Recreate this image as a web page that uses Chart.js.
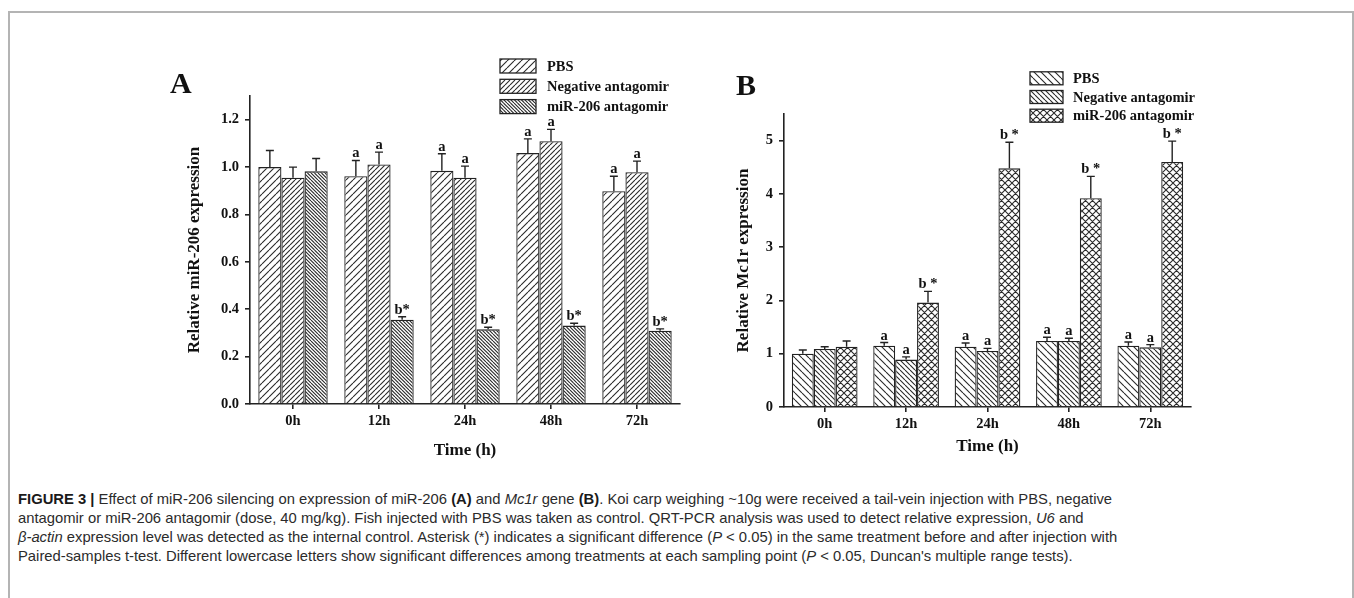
<!DOCTYPE html>
<html>
<head>
<meta charset="utf-8">
<script src="https://cdn.jsdelivr.net/npm/chart.js@4.4.1/dist/chart.umd.min.js"></script>
<style>
  body { margin: 0; background: #fff; width: 1354px; height: 598px; overflow: hidden; position: relative; }
  #frame { position: absolute; left: 8px; top: 11px; width: 1346px; height: 620px; border: 2px solid #b4b4b4; box-sizing: border-box; }
  .holder { position: absolute; }
  .tag { position: absolute; font: bold 30px "Liberation Serif", serif; color: #111; line-height: 1; }
  #caption { position: absolute; left: 18px; top: 490px; width: 1320px; font: 14.8px "Liberation Sans", Arial, sans-serif; line-height: 19px; color: #2b2b2b; white-space: nowrap; }
  #caption b { color: #1a1a1a; }
</style>
</head>
<body>
<div id="frame"></div>
<div class="holder" style="left:150px; top:40px;"><canvas id="chartA" width="560" height="440"></canvas></div>
<div class="holder" style="left:690px; top:50px;"><canvas id="chartB" width="520" height="430"></canvas></div>
<div class="tag" style="left:170px; top:68px;">A</div>
<div class="tag" style="left:736px; top:70px;">B</div>
<div id="caption">
<b>FIGURE 3 |</b> Effect of miR-206 silencing on expression of miR-206 <b>(A)</b> and <i>Mc1r</i> gene <b>(B)</b>. Koi carp weighing ~10g were received a tail-vein injection with PBS, negative<br>
antagomir or miR-206 antagomir (dose, 40 mg/kg). Fish injected with PBS was taken as control. QRT-PCR analysis was used to detect relative expression, <i>U6</i> and<br>
<i>β-actin</i> expression level was detected as the internal control. Asterisk (*) indicates a significant difference (<i>P</i> &lt; 0.05) in the same treatment before and after injection with<br>
Paired-samples t-test. Different lowercase letters show significant differences among treatments at each sampling point (<i>P</i> &lt; 0.05, Duncan's multiple range tests).
</div>
<script>
const timePoints = ['0h', '12h', '24h', '48h', '72h'];
const seriesNames = ['PBS', 'Negative antagomir', 'miR-206 antagomir'];

// panel A: relative miR-206 expression (mean, upper SD)
const mirPbs = [1.00, 0.961, 0.984, 1.059, 0.898];
const mirPbsErr = [0.07, 0.067, 0.072, 0.060, 0.063];
const mirNeg = [0.955, 1.011, 0.955, 1.109, 0.978];
const mirNegErr = [0.045, 0.052, 0.049, 0.050, 0.047];
const mirAnt = [0.982, 0.356, 0.315, 0.331, 0.309];
const mirAntErr = [0.054, 0.012, 0.009, 0.010, 0.008];

// panel B: relative Mc1r expression
const mc1rPbs = [1.00, 1.15, 1.13, 1.24, 1.15];
const mc1rPbsErr = [0.07, 0.06, 0.07, 0.07, 0.07];
const mc1rNeg = [1.09, 0.89, 1.05, 1.24, 1.12];
const mc1rNegErr = [0.04, 0.05, 0.05, 0.05, 0.05];
const mc1rAnt = [1.13, 1.96, 4.48, 3.92, 4.60];
const mc1rAntErr = [0.11, 0.21, 0.49, 0.41, 0.39];

// significance letters
const lettersCtrl = ['', 'a', 'a', 'a', 'a'];
const lettersAntA = ['', 'b*', 'b*', 'b*', 'b*'];
const lettersAntB = ['', 'b *', 'b *', 'b *', 'b *'];

const serif = '"Liberation Serif", "Times New Roman", serif';
const ink = '#222';

// hatch fill: tile size, number of lines per tile, '/' and/or '\'
function hatch(tile, n, fwd, back) {
  const c = document.createElement('canvas');
  c.width = c.height = tile;
  const g = c.getContext('2d');
  g.fillStyle = '#fff';
  g.fillRect(0, 0, tile, tile);
  g.strokeStyle = '#2a2a2a';
  g.lineWidth = 1.1;
  g.beginPath();
  const step = tile / n;
  for (let k = -n; k <= n; k++) {
    const o = k * step;
    if (fwd) { g.moveTo(o, tile); g.lineTo(o + tile, 0); }
    if (back) { g.moveTo(o, 0); g.lineTo(o + tile, tile); }
  }
  g.stroke();
  return g.createPattern(c, 'repeat');
}

const errorBars = {
  id: 'errorBars',
  afterDatasetsDraw(chart) {
    const ctx = chart.ctx;
    const ys = chart.scales.y;
    ctx.save();
    ctx.strokeStyle = ink;
    ctx.lineWidth = 1.4;
    ctx.fillStyle = '#111';
    ctx.font = 'bold 14.5px ' + serif;
    ctx.textAlign = 'center';
    ctx.textBaseline = 'alphabetic';
    chart.data.datasets.forEach((ds, i) => {
      chart.getDatasetMeta(i).data.forEach((bar, j) => {
        const top = ys.getPixelForValue(ds.data[j] + ds.err[j]);
        ctx.beginPath();
        ctx.moveTo(bar.x, bar.y);
        ctx.lineTo(bar.x, top);
        ctx.moveTo(bar.x - 4, top);
        ctx.lineTo(bar.x + 4, top);
        ctx.stroke();
        if (ds.letters[j]) ctx.fillText(ds.letters[j], bar.x, top - 3);
      });
    });
    ctx.restore();
  }
};

const boxLegend = {
  id: 'boxLegend',
  afterDraw(chart, args, o) {
    const ctx = chart.ctx;
    ctx.save();
    ctx.font = 'bold 14.5px ' + serif;
    ctx.textBaseline = 'middle';
    ctx.textAlign = 'left';
    chart.data.datasets.forEach((ds, i) => {
      const cy = o.y + i * o.step;
      ctx.fillStyle = ds.backgroundColor;
      ctx.fillRect(o.x, cy - o.h / 2, o.w, o.h);
      ctx.strokeStyle = ink;
      ctx.lineWidth = 1.3;
      ctx.strokeRect(o.x, cy - o.h / 2, o.w, o.h);
      ctx.fillStyle = '#111';
      ctx.fillText(ds.label, o.textX, cy + 1);
    });
    ctx.restore();
  }
};

function makeChart(id, cfg) {
  const tickFont = { family: serif, size: 14.5, weight: 'bold' };
  const titleFont = { family: serif, size: 17, weight: 'bold' };
  return new Chart(document.getElementById(id), {
    type: 'bar',
    data: {
      labels: timePoints,
      datasets: cfg.series.map((s, i) => ({
        label: seriesNames[i],
        data: s.data,
        err: s.err,
        letters: s.letters,
        backgroundColor: s.fill,
        borderColor: ink,
        borderWidth: 1.3,
        categoryPercentage: 0.807,
        barPercentage: 1.0
      }))
    },
    options: {
      responsive: false,
      animation: false,
      layout: { padding: { top: cfg.padTop, right: cfg.padRight, left: 0, bottom: 0 } },
      plugins: {
        legend: { display: false },
        tooltip: { enabled: false },
        boxLegend: cfg.legend
      },
      scales: {
        x: {
          ticks: { font: tickFont, color: '#111', padding: 4 },
          border: { color: ink, width: 1.6 },
          grid: { drawOnChartArea: false, offset: false, color: ink, lineWidth: 1.6, tickLength: 5 },
          title: { display: true, text: 'Time (h)', font: titleFont, color: '#111', padding: { top: 0, bottom: cfg.xTitlePad } },
          afterFit: s => { s.height = cfg.xHeight; }
        },
        y: {
          min: 0,
          max: cfg.yMax,
          ticks: { stepSize: cfg.yStep, includeBounds: false, font: tickFont, color: '#111', padding: 6, callback: cfg.fmt },
          border: { color: ink, width: 1.6 },
          grid: { drawOnChartArea: false, color: ink, lineWidth: 1.6, tickLength: 5 },
          title: { display: true, text: cfg.yTitle, font: titleFont, color: '#111', padding: { top: cfg.yTitlePad, bottom: 0 } },
          afterFit: s => { s.width = cfg.yWidth; }
        }
      }
    },
    plugins: [errorBars, boxLegend]
  });
}

makeChart('chartA', {
  series: [
    { data: mirPbs, err: mirPbsErr, letters: lettersCtrl, fill: hatch(7, 1, true, false) },
    { data: mirNeg, err: mirNegErr, letters: lettersCtrl, fill: hatch(5, 1, true, false) },
    { data: mirAnt, err: mirAntErr, letters: lettersAntA, fill: hatch(7, 2, false, true) }
  ],
  yMax: 1.3, yStep: 0.2, fmt: v => v.toFixed(1),
  yTitle: 'Relative miR-206 expression',
  padTop: 56, padRight: 30, yWidth: 100, xHeight: 76, yTitlePad: 34, xTitlePad: 19,
  legend: { x: 350, y: 26, step: 20.3, w: 36, h: 14, textX: 397 }
});

makeChart('chartB', {
  series: [
    { data: mc1rPbs, err: mc1rPbsErr, letters: lettersCtrl, fill: hatch(7, 1, false, true) },
    { data: mc1rNeg, err: mc1rNegErr, letters: lettersCtrl, fill: hatch(5, 1, false, true) },
    { data: mc1rAnt, err: mc1rAntErr, letters: lettersAntB, fill: hatch(7, 1, true, true) }
  ],
  yMax: 5.5, yStep: 1, fmt: v => String(v),
  yTitle: 'Relative Mc1r expression',
  padTop: 64, padRight: 19, yWidth: 94, xHeight: 73, yTitlePad: 43, xTitlePad: 23,
  legend: { x: 340, y: 28.3, step: 18.7, w: 33, h: 13, textX: 383 }
});
</script>
</body>
</html>
